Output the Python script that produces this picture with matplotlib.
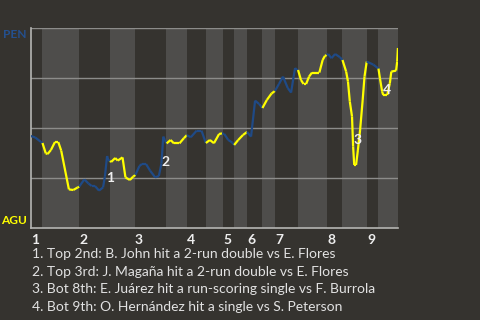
import numpy as np
import matplotlib
matplotlib.use("Agg")
import matplotlib.pyplot as plt
from matplotlib.collections import LineCollection

# game progress (0-100) and PEN win probability
progress = [0, 1.2, 2.8, 3.2, 4.1, 4.6, 5.5, 6.6, 7.5, 8.3, 10.4, 11.6, 12.8, 13.2,
            14.6, 15.7, 16.6, 17.5, 18.6, 19.7, 20.2, 20.8, 21.1, 21.6, 21.9, 23.0,
            23.7, 25.0, 25.8, 27.0, 27.9, 28.5, 29.6, 30.3, 31.4, 32.5, 33.9, 34.9,
            35.6, 36.1, 36.5, 37.0, 38.1, 39.0, 40.5, 41.7, 42.5, 43.6, 45.2, 46.5,
            47.7, 48.8, 49.9, 51.3, 52.1, 52.7, 53.8, 54.9, 55.4, 56.5, 57.8, 58.9,
            60.0, 61.1, 62.2, 63.1, 64.3, 65.6, 66.3, 66.5, 67.6, 68.7, 70.0, 70.9,
            71.6, 72.0, 72.5, 72.8, 73.6, 74.3, 75.0, 75.8, 76.6, 78.6, 79.5, 80.1,
            80.6, 81.0, 81.9, 82.9, 84.2, 84.9, 85.9, 86.4, 86.9, 87.5, 87.8, 88.1,
            88.6, 89.1, 89.7, 90.4, 90.9, 91.5, 93.3, 94.7, 95.1, 95.7, 96.0, 97.1,
            97.8, 98.2, 99.5, 99.8, 100]
pen_wp = [0.46, 0.453, 0.43, 0.425, 0.373, 0.37, 0.39, 0.43, 0.43, 0.387, 0.193, 0.19,
          0.203, 0.207, 0.243, 0.223, 0.21, 0.21, 0.187, 0.203, 0.257, 0.36, 0.34, 0.335,
          0.33, 0.35, 0.337, 0.353, 0.253, 0.24, 0.257, 0.265, 0.31, 0.32, 0.32, 0.287,
          0.253, 0.26, 0.323, 0.457, 0.44, 0.423, 0.44, 0.423, 0.423, 0.449, 0.464, 0.454,
          0.487, 0.487, 0.425, 0.44, 0.424, 0.47, 0.473, 0.47, 0.44, 0.427, 0.415, 0.44,
          0.465, 0.48, 0.457, 0.637, 0.62, 0.60, 0.64, 0.673, 0.682, 0.685, 0.72, 0.757,
          0.70, 0.677, 0.757, 0.80, 0.79, 0.79, 0.74, 0.72, 0.72, 0.757, 0.777, 0.777,
          0.84, 0.86, 0.865, 0.87, 0.849, 0.87, 0.854, 0.84, 0.782, 0.732, 0.632, 0.557,
          0.407, 0.315, 0.315, 0.39, 0.49, 0.64, 0.757, 0.832, 0.817, 0.797, 0.749, 0.682,
          0.665, 0.665, 0.724, 0.782, 0.787, 0.832, 0.90]

# half-inning boundaries (top 1st ... bottom 9th)
half_innings = [0, 3.1, 13.2, 21.6, 28.4, 36.8, 42.6, 47.7, 52.4, 55.3, 58.9, 63.0,
                66.5, 72.8, 80.7, 84.8, 91.6, 94.6, 100]
innings = ['1', '2', '3', '4', '5', '6', '7', '8', '9']

# key plays
event_x = [21.6, 36.8, 89.0, 96.9]
event_y = [0.248, 0.33, 0.44, 0.69]
event_labels = ['1', '2', '3', '4']
event_text = [
    '1. Top 2nd: B. John hit a 2-run double vs E. Flores',
    '2. Top 3rd: J. Magaña hit a 2-run double vs E. Flores',
    '3. Bot 8th: E. Juárez hit a run-scoring single vs F. Burrola',
    '4. Bot 9th: O. Hernández hit a single vs S. Peterson',
]

bg = '#35332f'
band = '#4e4d4b'
blue = '#1f4a86'
yellow = '#ffff00'

plt.rcParams['font.family'] = ['Lato', 'DejaVu Sans']

fig = plt.figure(figsize=(4.8, 3.2), dpi=100, facecolor=bg)
ax = fig.add_axes([0.064, 0.2875, 0.765, 0.625])
ax.set_facecolor(bg)

# shade bottom halves
for i in range(1, len(half_innings) - 1, 2):
    ax.axvspan(half_innings[i], half_innings[i + 1], color=band, lw=0, zorder=0)

for y in [0.25, 0.5, 0.75, 1.0]:
    ax.axhline(y, color='#8c8c8a', lw=1, zorder=1)

# line colored by batting team
x = np.array(progress)
y = np.array(pen_wp)
segs = np.stack([np.column_stack([x[:-1], y[:-1]]), np.column_stack([x[1:], y[1:]])], axis=1)
mid = (x[:-1] + x[1:]) / 2
half = np.searchsorted(half_innings, mid) - 1
colors = [blue if h % 2 == 0 else yellow for h in half]
ax.add_collection(LineCollection(segs, colors=colors, linewidths=1.6, zorder=3))

for ex, ey, lab in zip(event_x, event_y, event_labels):
    ax.text(ex, ey, lab, color='#eeeeee', fontsize=10, fontweight='bold',
            ha='center', va='center', zorder=4)

ax.set_xlim(0, 100)
ax.set_ylim(0, 1)
for s in ['top', 'right']:
    ax.spines[s].set_visible(False)
for s in ['left', 'bottom']:
    ax.spines[s].set_color('#b5b5b3')
    ax.spines[s].set_linewidth(1.2)
ax.set_xticks([])
ax.set_yticks([])

# inning labels at start of each inning
for i, lab in enumerate(innings):
    ax.text(half_innings[2 * i], -0.06, lab, color='#eeeeee', fontsize=10,
            fontweight='bold', ha='left', va='center', transform=ax.get_xaxis_transform())

fig.text(27 / 480, 1 - 34 / 320, 'PEN', color='#24508f', fontsize=8.6, fontweight='bold',
         ha='right', va='center')
fig.text(27 / 480, 1 - 220 / 320, 'AGU', color=yellow, fontsize=8.6, fontweight='bold',
         ha='right', va='center')

for i, t in enumerate(event_text):
    fig.text(32 / 480, 1 - (254 + 17.7 * i) / 320, t, color='#e2e2e2', fontsize=10,
             ha='left', va='center')

fig.savefig('out.png', dpi=100, facecolor=bg)
